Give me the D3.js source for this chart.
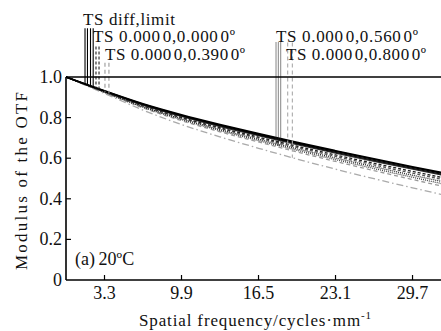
<!DOCTYPE html>
<html>
<head>
<meta charset="utf-8">
<script src="https://cdn.jsdelivr.net/npm/d3@7"></script>
<style>
  html, body { margin: 0; padding: 0; background: #fff; }
  svg { display: block; }
  svg text { font-family: "Liberation Serif", "DejaVu Serif", serif; fill: #111; }
</style>
</head>
<body>
<svg id="chart" width="441" height="331"></svg>
<script>
// ── Data ──
const freqs = [0, 3.3, 6.6, 9.9, 13.2, 16.5, 19.8, 23.1, 26.4, 29.7, 33];
const xTicks = [3.3, 9.9, 16.5, 23.1, 29.7];
const yTicks = [0, 0.2, 0.4, 0.6, 0.8, 1.0];
const yTickLabels = ['0', '0.2', '0.4', '0.6', '0.8', '1.0'];

const diffT = [1, .932, .868, .814, .766, .721, .678, .637, .597, .558, .520];
const diffS = [1, .931, .866, .811, .763, .718, .675, .634, .594, .555, .517];
const f00T  = [1, .930, .864, .808, .759, .714, .671, .629, .589, .550, .512];
const f00S  = [1, .929, .862, .806, .756, .711, .667, .625, .585, .546, .508];
const f39T  = [1, .928, .859, .801, .750, .704, .659, .616, .575, .535, .496];
const f39S  = [1, .927, .857, .798, .746, .699, .653, .609, .567, .526, .487];
const f56T  = [1, .926, .854, .794, .741, .693, .646, .601, .558, .516, .476];
const f56S  = [1, .925, .851, .790, .736, .687, .639, .593, .549, .506, .465];
const f80T  = [1, .924, .848, .785, .730, .680, .631, .584, .539, .495, .453];
const f80S  = [1, .919, .837, .766, .705, .649, .596, .546, .499, .454, .411];

const legendLabels = [
  'TS diff,limit',
  'TS 0.000\u200a0,0.000\u200a0\u00ba',
  'TS 0.000\u200a0,0.390\u200a0\u00ba',
  'TS 0.000\u200a0,0.560\u200a0\u00ba',
  'TS 0.000\u200a0,0.800\u200a0\u00ba'
];
// legend drop lines: frequency where they sit, and the value they start from
const dropFreqs = [1.63, 1.84, 2.10, 2.33, 2.57, 2.83, 3.34, 3.68, 18.0, 18.2, 18.4, 19.0, 19.4];
const dropTops  = [1.24, 1.24, 1.24, 1.24, 1.15, 1.15, 1.07, 1.07, 1.17, 1.17, 1.17, 1.17, 1.17];

// ── Styles ──
const series = [
  { v: diffT, color: '#000', w: 1.6, dash: null },
  { v: diffS, color: '#000', w: 1.4, dash: null },
  { v: f00T,  color: '#111', w: 1.3, dash: null },
  { v: f00S,  color: '#333', w: 1.3, dash: null },
  { v: f39T,  color: '#222', w: 1.3, dash: '3,2' },
  { v: f39S,  color: '#555', w: 1.3, dash: '3,2' },
  { v: f56T,  color: '#222', w: 1.3, dash: '1,1' },
  { v: f56S,  color: '#444', w: 1.3, dash: '1,1' },
  { v: f80T,  color: '#999', w: 1.3, dash: '4,3' },
  { v: f80S,  color: '#aaa', w: 1.3, dash: '7,3,1.5,3' }
];
const dropStyles = [
  ['#000', null], ['#000', null], ['#000', null], ['#000', null],
  ['#222', '3,2'], ['#222', '3,2'], ['#999', '4,3'], ['#999', '4,3'],
  ['#222', '1,1'], ['#222', '1,1'], ['#222', '1,1'], ['#aaa', '4,3'], ['#aaa', '4,3']
];
const dropSeries = [0, 1, 2, 3, 4, 5, 4, 5, 6, 7, 6, 8, 9];

const svg = d3.select('#chart');
const x = d3.scaleLinear().domain([0, 32.14]).range([66, 441]);
const y = d3.scaleLinear().domain([0, 1]).range([280, 77]);

svg.append('defs').append('clipPath').attr('id', 'plot')
  .append('rect').attr('x', 66).attr('y', 0).attr('width', 375).attr('height', 280);

// ── Curves ──
const line = d3.line()
  .x((d, i) => x(freqs[i])).y(d => y(d))
  .curve(d3.curveMonotoneX);

const curves = svg.append('g').attr('clip-path', 'url(#plot)');
series.slice().reverse().forEach(s => {
  curves.append('path')
    .attr('d', line(s.v))
    .attr('fill', 'none')
    .attr('stroke', s.color).attr('stroke-width', s.w)
    .attr('stroke-dasharray', s.dash);
});

// value of a series at a frequency (linear between samples)
function valueAt(arr, f) {
  const i = Math.min(d3.bisectRight(freqs, f) - 1, freqs.length - 2);
  const t = (f - freqs[i]) / (freqs[i + 1] - freqs[i]);
  return arr[i] + (arr[i + 1] - arr[i]) * t;
}

// ── Legend drop lines ──
dropFreqs.forEach((f, i) => {
  svg.append('line')
    .attr('x1', x(f)).attr('x2', x(f))
    .attr('y1', y(dropTops[i]))
    .attr('y2', y(valueAt(series[dropSeries[i]].v, f)))
    .attr('stroke', dropStyles[i][0]).attr('stroke-width', 1.1)
    .attr('stroke-dasharray', dropStyles[i][1]);
});

// ── Axes ──
svg.append('line').attr('x1', 66).attr('x2', 441).attr('y1', y(1)).attr('y2', y(1))
  .attr('stroke', '#000').attr('stroke-width', 1.5);
svg.append('line').attr('x1', 66).attr('x2', 441).attr('y1', y(0)).attr('y2', y(0))
  .attr('stroke', '#000').attr('stroke-width', 1.6);
svg.append('line').attr('x1', 66).attr('x2', 66).attr('y1', y(1)).attr('y2', y(0))
  .attr('stroke', '#000').attr('stroke-width', 1.6);

yTicks.forEach((t, i) => {
  if (t > 0 && t < 1) {
    svg.append('line').attr('x1', 66).attr('x2', 71).attr('y1', y(t)).attr('y2', y(t))
      .attr('stroke', '#000').attr('stroke-width', 1.2);
  }
  svg.append('text')
    .attr('x', 62).attr('y', y(t) + 6)
    .attr('text-anchor', 'end').attr('font-size', '18px')
    .text(yTickLabels[i]);
});

xTicks.forEach(t => {
  svg.append('line').attr('x1', x(t)).attr('x2', x(t)).attr('y1', y(0)).attr('y2', y(0) - 5)
    .attr('stroke', '#000').attr('stroke-width', 1.2);
  svg.append('text')
    .attr('x', x(t)).attr('y', 299)
    .attr('text-anchor', 'middle').attr('font-size', '18px')
    .text(t.toFixed(1));
});

// ── Titles ──
const xt = svg.append('text')
  .attr('x', 139).attr('y', 326)
  .attr('font-size', '17px')
  .attr('textLength', 232).attr('lengthAdjust', 'spacing');
xt.append('tspan').text('Spatial  frequency/cycles\u00b7mm');
xt.append('tspan').attr('dy', -7).attr('font-size', '11px').text('-1');

svg.append('text')
  .attr('transform', 'translate(27,181) rotate(-90)')
  .attr('text-anchor', 'middle').attr('font-size', '17px')
  .attr('textLength', 178).attr('lengthAdjust', 'spacing')
  .text('Modulus of the OTF');

svg.append('text')
  .attr('x', 75).attr('y', 265).attr('font-size', '18px')
  .text('(a)\u200920\u00baC');

// ── Legend labels ──
const legendPos = [[83, 25, 92], [93, 42, 142], [105, 60, 140], [276, 42, 142], [286, 60, 140]];
legendLabels.forEach((s, i) => {
  svg.append('text')
    .attr('x', legendPos[i][0]).attr('y', legendPos[i][1])
    .attr('font-size', '17px')
    .attr('textLength', legendPos[i][2]).attr('lengthAdjust', 'spacing')
    .text(s);
});
</script>
</body>
</html>
